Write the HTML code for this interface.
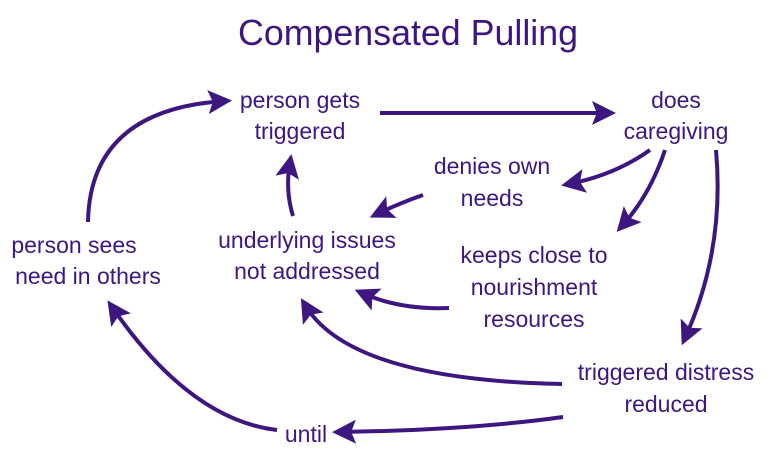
<!DOCTYPE html>
<html><head><style>
html,body{margin:0;padding:0;background:#fff;}
svg{display:block;}
text{font-family:"Liberation Sans",sans-serif;fill:#3d1680;text-anchor:middle;}
</style></head><body>
<svg width="769" height="453" viewBox="0 0 769 453" xmlns="http://www.w3.org/2000/svg">
<defs>
<marker id="a" markerWidth="6" markerHeight="6" refX="4" refY="3" orient="auto" markerUnits="strokeWidth">
<path d="M0,0 L6,3 L0,6 L1.2,3 z" fill="#3d1680"/>
</marker>
</defs>
<text x="408" y="45" font-size="36" textLength="340" lengthAdjust="spacingAndGlyphs">Compensated Pulling</text>
<g font-size="23">
<text x="300" y="108">person gets</text><text x="300" y="139">triggered</text>
<text x="676" y="108">does</text><text x="676" y="139">caregiving</text>
<text x="492" y="174">denies own</text><text x="492" y="206">needs</text>
<text x="307" y="248">underlying issues</text><text x="307" y="279">not addressed</text>
<text x="74" y="253">person sees</text><text x="88" y="284">need in others</text>
<text x="534" y="263">keeps close to</text><text x="534" y="295">nourishment</text><text x="534" y="327">resources</text>
<text x="666" y="380">triggered distress</text><text x="666" y="412">reduced</text>
<text x="306" y="442">until</text>
</g>
<g fill="none" stroke="#3d1680" stroke-width="4" marker-end="url(#a)">
<path d="M380,113 L608,113"/>
<path d="M650,150 Q615,175 569,184"/>
<path d="M665,150 Q650,195 622,226"/>
<path d="M716,150 Q725,250 685,338"/>
<path d="M423,195 Q400,203 377,214"/>
<path d="M293,216 Q285,190 290,162"/>
<path d="M449,308 Q400,310 362,293"/>
<path d="M562,384 Q350,380 305,305"/>
<path d="M563,417 Q470,430 340,432"/>
<path d="M277,430 Q190,420 112,307"/>
<path d="M88,222 Q90,110 224,101"/>
</g>
</svg>
</body></html>
